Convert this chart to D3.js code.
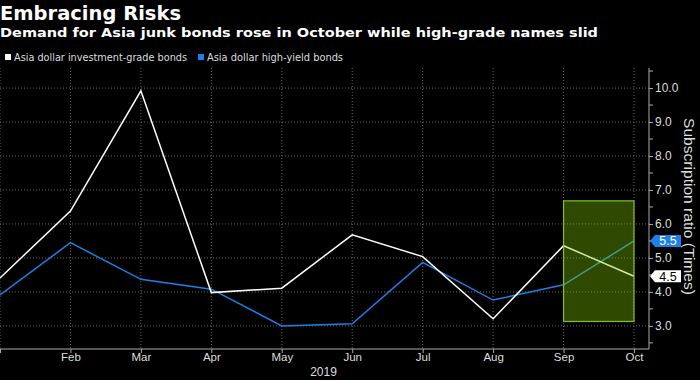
<!DOCTYPE html>
<html>
<head>
<meta charset="utf-8">
<script src="https://cdn.jsdelivr.net/npm/d3@7"></script>
<style>
  html, body { margin: 0; padding: 0; background: #000; }
  svg { display: block; }
</style>
</head>
<body>
<svg id="chart" width="700" height="380"></svg>
<script>
const months = ["Jan", "Feb", "Mar", "Apr", "May", "Jun", "Jul", "Aug", "Sep", "Oct"];
const igValues = [4.41, 6.38, 9.92, 3.98, 4.11, 5.68, 5.04, 3.21, 5.36, 4.46];
const hyValues = [3.91, 5.45, 4.37, 4.08, 3.0, 3.06, 4.87, 3.76, 4.21, 5.5];
const yTicks = [3, 4, 5, 6, 7, 8, 9, 10];
const yMinorTicks = [2.5, 3.5, 4.5, 5.5, 6.5, 7.5, 8.5, 9.5, 10.5];
const highlightMonths = ["Sep", "Oct"];
const highlightRange = [3.13, 6.68];
const lastLabels = ["5.5", "4.5"];
const seriesNames = ["Asia dollar investment-grade bonds", "Asia dollar high-yield bonds"];

const svg = d3.select("#chart");
const dejavu = "'DejaVu Sans', 'Liberation Sans', sans-serif";
const regular = "'Liberation Sans', Arial, sans-serif";

const pLeft = 0, pRight = 649, pTop = 68, pBottom = 349;
const x = d3.scalePoint().domain(months).range([0, 634]);
const y = d3.scaleLinear().domain([2.32, 10.59]).range([pBottom, pTop]);

// Title
svg.append("text").attr("x", 0).attr("y", 19.5)
  .attr("font-family", dejavu).attr("font-weight", "bold").attr("font-size", 19.5)
  .attr("textLength", 181).attr("lengthAdjust", "spacingAndGlyphs")
  .attr("fill", "#fff").text("Embracing Risks");
svg.append("text").attr("x", 0).attr("y", 37)
  .attr("font-family", dejavu).attr("font-weight", "bold").attr("font-size", 12.5)
  .attr("textLength", 598).attr("lengthAdjust", "spacingAndGlyphs")
  .attr("fill", "#fff").text("Demand for Asia junk bonds rose in October while high-grade names slid");

// Legend
const legendColors = ["#ffffff", "#1e7fe6"];
const legendX = [5, 198];
const legendW = [173, 136];
seriesNames.forEach((n, i) => {
  svg.append("rect").attr("x", legendX[i]).attr("y", 54).attr("width", 6).attr("height", 6)
    .attr("fill", legendColors[i]);
  svg.append("text").attr("x", legendX[i] + 9).attr("y", 61)
    .attr("font-family", dejavu).attr("font-size", 10.5).attr("fill", "#ddd")
    .attr("textLength", legendW[i]).attr("lengthAdjust", "spacingAndGlyphs").text(n);
});

// Gridlines
const grid = svg.append("g");
grid.selectAll(".hg").data(yTicks).join("line")
  .attr("x1", pLeft).attr("x2", pRight)
  .attr("y1", d => y(d)).attr("y2", d => y(d))
  .attr("stroke", "#666").attr("stroke-width", 1).attr("stroke-dasharray", "1,2");
grid.selectAll(".vg").data(months).join("line")
  .attr("x1", d => x(d)).attr("x2", d => x(d))
  .attr("y1", pTop).attr("y2", pBottom)
  .attr("stroke", "#666").attr("stroke-width", 1).attr("stroke-dasharray", "1,2");

// Lines
const line = d3.line().x((d, i) => x(months[i])).y(d => y(d));
svg.append("path").datum(hyValues).attr("d", line)
  .attr("fill", "none").attr("stroke", "#1e7fe6").attr("stroke-width", 1.5);
svg.append("path").datum(igValues).attr("d", line)
  .attr("fill", "none").attr("stroke", "#ffffff").attr("stroke-width", 1.5);

// Highlight rect
svg.append("rect")
  .attr("x", x(highlightMonths[0])).attr("y", y(highlightRange[1]))
  .attr("width", x(highlightMonths[1]) - x(highlightMonths[0]))
  .attr("height", y(highlightRange[0]) - y(highlightRange[1]))
  .attr("fill", "rgba(127,200,0,0.37)").attr("stroke", "#86c21a").attr("stroke-width", 1.2);

// Axes
const yAxis = d3.axisRight(y).tickValues(yTicks).tickFormat(d3.format(".1f")).tickSize(4).tickPadding(2);
const gy = svg.append("g").attr("transform", `translate(${pRight},0)`).call(yAxis);
gy.select(".domain").attr("d", `M0,${pTop}V${pBottom}`);
gy.selectAll("line").attr("stroke", "#aaa");
gy.select(".domain").attr("stroke", "#aaa");
gy.selectAll("text").attr("fill", "#ddd").attr("font-size", 12).attr("font-family", regular);
gy.selectAll(".minor").data(yMinorTicks).join("line").attr("class", "minor")
  .attr("x1", 0).attr("x2", 4).attr("y1", d => y(d)).attr("y2", d => y(d)).attr("stroke", "#aaa");

const xAxis = d3.axisBottom(x).tickSize(4).tickPadding(0);
const gx = svg.append("g").attr("transform", `translate(0,${pBottom})`).call(xAxis);
gx.select(".domain").attr("d", `M0,0H${pRight}`).attr("stroke", "#aaa");
gx.selectAll("line").attr("stroke", "#aaa");
gx.selectAll("text").attr("fill", "#ddd").attr("font-size", 11.5).attr("font-family", regular);
gx.selectAll(".tick").filter(d => d === "Jan").select("text").remove();

svg.append("text").attr("x", 323.5).attr("y", 376).attr("text-anchor", "middle")
  .attr("fill", "#ddd").attr("font-size", 12).attr("font-family", regular).text("2019");

// Y axis title
svg.append("text").attr("transform", `translate(684,206.5) rotate(90)`)
  .attr("text-anchor", "middle").attr("fill", "#ddd").attr("font-size", 15.5).attr("font-family", regular)
  .attr("textLength", 177).attr("lengthAdjust", "spacingAndGlyphs")
  .text("Subscription ratio (Times)");

// End labels
const lastVals = [hyValues[hyValues.length - 1], igValues[igValues.length - 1]];
const boxFill = ["#1e7fe6", "#ffffff"];
const txtFill = ["#ffffff", "#000000"];
lastVals.forEach((v, i) => {
  const cy = y(v);
  const x0 = pRight + 1, w = 31, h = 12;
  svg.append("path")
    .attr("d", `M${x0},${cy}L${x0 + 5},${cy - h / 2}H${x0 + w}V${cy + h / 2}H${x0 + 5}Z`)
    .attr("fill", boxFill[i]);
  svg.append("text").attr("x", x0 + 18).attr("y", cy + 4.5).attr("text-anchor", "middle")
    .attr("fill", txtFill[i]).attr("font-size", 12.5).attr("font-family", regular).text(lastLabels[i]);
});
</script>
</body>
</html>
